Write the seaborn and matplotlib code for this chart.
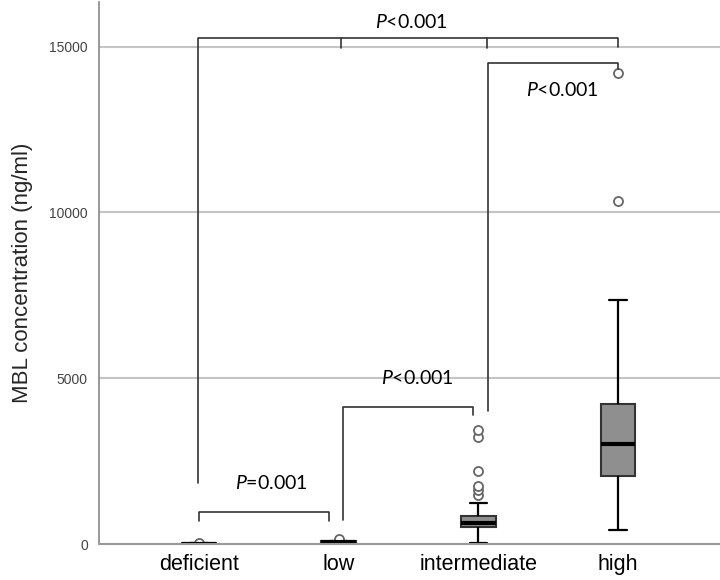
import matplotlib
matplotlib.use("Agg")
import matplotlib.pyplot as plt
import seaborn as sns
import pandas as pd

# ---- data ----
categories = ["deficient", "low", "intermediate", "high"]
deficient_vals = [3, 6, 8, 10, 12, 14, 16, 18, 45]
low_vals = [35, 45, 55, 60, 70, 75, 85, 95, 150]
intermediate_vals = [40, 120, 220, 300, 380, 440, 490, 513, 530, 555, 575, 595, 610, 630,
                     643, 670, 700, 730, 760, 790, 820, 845, 1237,
                     1478, 1630, 1750, 2212, 3238, 3440]
high_vals = [422, 1100, 1700, 2052, 2400, 2750, 3017, 3350, 3800, 4224, 7363, 10350, 14212]
y_ticks = [0, 5000, 10000, 15000]
y_label = "MBL concentration (ng/ml)"

# comparison brackets: (x_left, x_right, y_top, left_leg_bottom, right_leg_bottom, label, label_x, label_y, mid_ticks)
brackets = [
    (0.0, 0.93, 960, 703, 703, "=0.001", 0.52, 1830, []),
    (1.03, 1.96, 4120, 724, 3890, "<0.001", 1.56, 5006, []),
    (2.07, 3.0, 14515, 4020, 14315, "<0.001", 2.6, 13690, []),
    (-0.01, 3.0, 15250, 1830, 15000, "<0.001", 1.52, 15740, [1.02, 2.06]),
]

sns.set_theme(style="white")
plt.rcParams["mathtext.fontset"] = "custom"
plt.rcParams["mathtext.it"] = "Lato:italic"
plt.rcParams["mathtext.rm"] = "Lato"
plt.rcParams["font.family"] = ["Liberation Sans", "DejaVu Sans"]

df = pd.DataFrame({
    "group": (["deficient"] * len(deficient_vals) + ["low"] * len(low_vals)
              + ["intermediate"] * len(intermediate_vals) + ["high"] * len(high_vals)),
    "value": deficient_vals + low_vals + intermediate_vals + high_vals,
})

fig = plt.figure(figsize=(7.2, 5.8), dpi=100)
ax = fig.add_axes([99 / 720, 36 / 580, 621 / 720, 542 / 580])

for yt in y_ticks[1:]:
    ax.axhline(yt, color="#c4c4c4", lw=1.5, zorder=0)

sns.boxplot(data=df, x="group", y="value", order=categories, ax=ax,
            width=0.25, color="#8f8f8f", saturation=1, linecolor="black",
            linewidth=1.5,
            boxprops=dict(edgecolor="#333333", linewidth=1.5),
            medianprops=dict(color="black", linewidth=3),
            whiskerprops=dict(color="black", linewidth=1.6),
            capprops=dict(color="black", linewidth=1.6),
            flierprops=dict(marker="o", markersize=6.5, markerfacecolor="white",
                            markeredgecolor="#666666", markeredgewidth=1.3))

ax.set_xlim(-0.716, 3.73)
ax.set_ylim(0, 16345)
ax.set_yticks(y_ticks)
ax.set_yticklabels([str(v) for v in y_ticks])
ax.tick_params(axis="y", labelsize=10, labelcolor="#444444", length=0, pad=8)
ax.tick_params(axis="x", labelsize=15.5, labelcolor="black", length=0, pad=7)
ax.set_xlabel("")
ax.set_ylabel(y_label, fontsize=16, labelpad=12)

for side in ["top", "right"]:
    ax.spines[side].set_visible(False)
ax.spines["left"].set_color("#888888")
ax.spines["left"].set_linewidth(1.2)
ax.spines["bottom"].set_color("#999999")
ax.spines["bottom"].set_linewidth(1.5)

bc = "#333333"
for (xl, xr, yt, ylb, yrb, lab, lx, ly, ticks) in brackets:
    ax.plot([xl, xl, xr, xr], [ylb, yt, yt, yrb], color=bc, lw=1.2, zorder=5, clip_on=False)
    for t in ticks:
        ax.plot([t, t], [yt, yt - 290], color=bc, lw=1.2, zorder=5)
    ax.text(lx, ly, r"$\mathit{P}$" + lab, ha="center", va="center",
            fontsize=14, family="Lato", color="black")

fig.savefig("out.png", dpi=100)
